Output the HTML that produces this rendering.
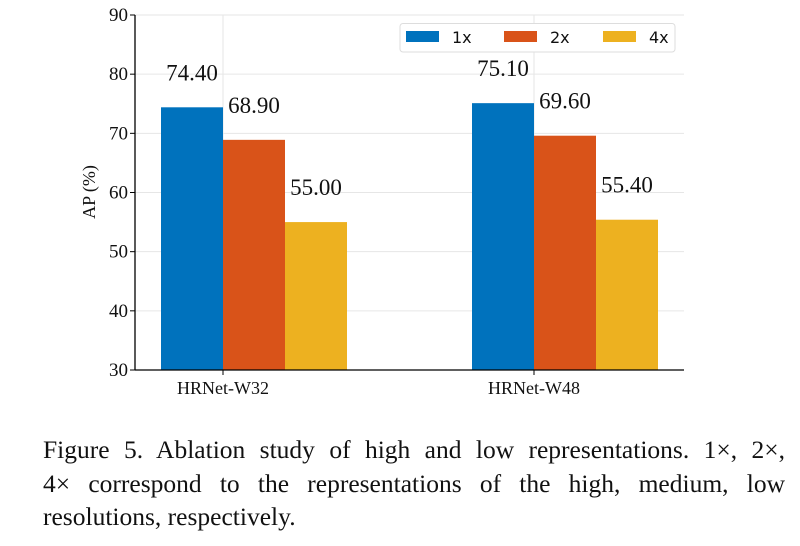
<!DOCTYPE html>
<html><head><meta charset="utf-8"><style>
body{margin:0;background:#fff;width:800px;height:546px;overflow:hidden;position:relative}
.cap{position:absolute;left:43px;width:742px;font-family:"Liberation Serif",serif;font-size:25.5px;color:#111;white-space:nowrap}
.j{text-align:justify;text-align-last:justify}
</style></head><body>
<svg id="chart" width="800" height="420" style="position:absolute;left:0;top:0" font-family="Liberation Serif, serif"></svg>
<div class="cap j" style="top:435px">Figure 5. Ablation study of high and low representations. 1×, 2×,</div>
<div class="cap j" style="top:469px">4× correspond to the representations of the high, medium, low</div>
<div class="cap" style="top:502px">resolutions, respectively.</div>
<script>
const categories=["HRNet-W32","HRNet-W48"];
const seriesNames=["1x","2x","4x"];
const seriesColors=["#0072BD","#D95319","#EDB120"];
const s1x=[74.4,75.1];
const s2x=[68.9,69.6];
const s4x=[55.0,55.4];
const yTicks=[30,40,50,60,70,80,90];
const series=[s1x,s2x,s4x];
const NS="http://www.w3.org/2000/svg";
const svg=document.getElementById('chart');
const X0=135,X1=684,Y0=370,Y1=15;
const y=v=>Y0-(v-30)/(90-30)*(Y0-Y1);
const xc=i=>223+i*311;
const bw=62;
function mk(t,a){const e=document.createElementNS(NS,t);for(const k in a)e.setAttribute(k,a[k]);svg.appendChild(e);return e;}
yTicks.forEach(t=>{
 const g=mk('line',{x1:X0,x2:X1,y1:y(t),y2:y(t),stroke:'#e6e6e6','stroke-width':1});
 
 
 const tk=mk('line',{x1:X0-5,x2:X0,y1:y(t),y2:y(t),stroke:'#000'});
 
 
 const l=mk('text',{x:X0-7,y:y(t)+6,'text-anchor':'end','font-size':19,fill:'#111'});
 l.textContent=t;
 
 
});
categories.forEach((c,i)=>{
 const g=mk('line',{x1:xc(i),x2:xc(i),y1:Y1,y2:Y0,stroke:'#e6e6e6'});
 
 
});
series.forEach((s,j)=>{
 s.forEach((v,i)=>{
  const x=xc(i)+(j-1)*bw;
  const r=mk('rect',{x:x,y:y(v),width:bw,height:Y0-y(v),fill:seriesColors[j]});
  
  
  const t=mk('text',{x:x+bw/2,y:y(v)-27,'text-anchor':'middle','font-size':23,fill:'#111'});
  t.textContent=v.toFixed(2);
  
  
 });
});
categories.forEach((c,i)=>{
 const tk=mk('line',{x1:xc(i),x2:xc(i),y1:Y0,y2:Y0+5,stroke:'#000'});
 
 
 const l=mk('text',{x:xc(i),y:Y0+24,'text-anchor':'middle','font-size':18,fill:'#111'});
 l.textContent=c;
 
 
});
const ax=mk('line',{x1:X0,x2:X0,y1:Y1,y2:Y0,stroke:'#000','stroke-width':1.3});


const bx=mk('line',{x1:X0,x2:X1,y1:Y0,y2:Y0,stroke:'#000','stroke-width':1.3});


const yt=mk('text',{x:0,y:0,transform:'translate(95,192) rotate(-90)','text-anchor':'middle','font-size':18,fill:'#111'});
yt.textContent='AP (%)';


const lg=mk('rect',{x:400,y:23.5,width:275,height:28.5,rx:3,fill:'#fff',stroke:'#ddd'});


const lx=[406,504,603];
seriesNames.forEach((n,j)=>{
 const p=mk('rect',{x:lx[j],y:31,width:33,height:11,fill:seriesColors[j]});
 
 
 const t=mk('text',{x:lx[j]+46,y:43,'font-size':16,'font-family':'DejaVu Sans, sans-serif',fill:'#111'});
 t.textContent=n;
 
 
});
</script>
</body></html>
